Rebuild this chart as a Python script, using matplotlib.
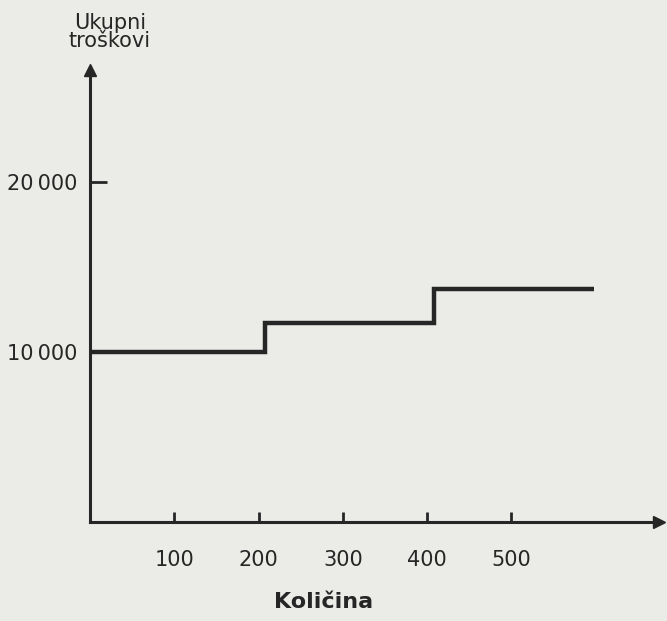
import matplotlib.pyplot as plt

plt.rcParams['font.family'] = ['DejaVu Sans']

# step cost function
quantity_edges = [0, 208, 408, 598]
total_cost = [10000, 11700, 13700]

x_ticks = [100, 200, 300, 400, 500]
y_ticks = [10000, 20000]
y_tick_labels = ['10\u2009000', '20\u2009000']

ink = '#262626'
paper = '#ebebe8'

fig = plt.figure(figsize=(6.67, 6.21), dpi=100, facecolor=paper)
ax = fig.add_axes([90 / 667, 99 / 621, 569 / 667, 452 / 621])
ax.set_facecolor(paper)

ax.stairs(total_cost, quantity_edges, baseline=None, color=ink, lw=3.2)

ax.set_xlim(0, 675)
ax.set_ylim(0, 26600)

for s in ['top', 'right']:
    ax.spines[s].set_visible(False)
for s in ['left', 'bottom']:
    ax.spines[s].set_color(ink)
    ax.spines[s].set_linewidth(2.2)

# arrow heads at the ends of the axes
ax.plot(1, 0, '>', ms=8, color=ink, transform=ax.transAxes, clip_on=False)
ax.plot(0, 1, '^', ms=8, color=ink, transform=ax.transAxes, clip_on=False)

ax.set_xticks(x_ticks)
ax.set_xticklabels([str(t) for t in x_ticks])
ax.set_yticks(y_ticks)
ax.set_yticklabels(y_tick_labels)
ax.tick_params(axis='x', direction='in', length=7, width=2, color=ink,
               labelsize=15, labelcolor=ink, pad=20)
ax.tick_params(axis='y', direction='in', length=12, width=2, color=ink,
               labelsize=15, labelcolor=ink, pad=9)

ax.set_xlabel('Količina', fontsize=16, color=ink, fontweight='bold')
ax.xaxis.set_label_coords(0.41, -0.155)

fig.text(110 / 667, 1 - 32 / 621, 'Ukupni\ntroškovi', ha='center', va='center',
         fontsize=15, color=ink, linespacing=0.85)

fig.savefig('out.png', dpi=100, facecolor=paper)
